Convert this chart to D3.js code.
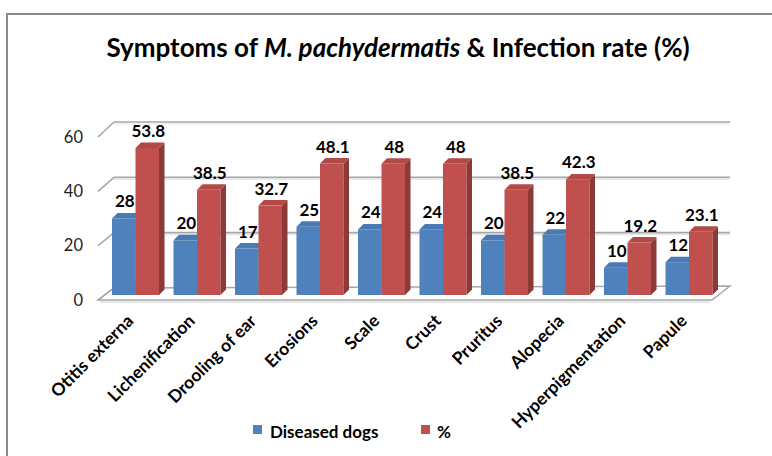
<!DOCTYPE html>
<html><head><meta charset="utf-8">
<script src="https://cdn.jsdelivr.net/npm/d3@7"></script>
<style>body{margin:0;background:#fff}svg{display:block}</style>
</head><body>
<script>
const categories = ["Otitis externa","Lichenification","Drooling of ear","Erosions","Scale","Crust","Pruritus","Alopecia","Hyperpigmentation","Papule"];
const diseasedDogs = [28,20,17,25,24,24,20,22,10,12];
const percent = [53.8,38.5,32.7,48.1,48,48,38.5,42.3,19.2,23.1];
const percentLabels = ["53.8","38.5","32.7","48.1","48","48","38.5","42.3","19.2","23.1"];
const yTicks = [0,20,40,60];
const seriesNames = ["Diseased dogs","%"];

const W = 772, H = 456;
const svg = d3.select("body").append("svg").attr("width", W).attr("height", H);
const FONT = "Lato, 'Open Sans', sans-serif";

// border
svg.append("rect").attr("x",7).attr("y",14).attr("width",820).attr("height",500)
  .attr("fill","none").attr("stroke","#8c8c8c").attr("stroke-width",2);

// title
const title = svg.append("text").attr("x",398).attr("y",57).attr("text-anchor","middle")
  .attr("font-family",FONT).attr("font-weight","bold").attr("font-size",26).attr("fill","#000");
title.append("tspan").text("Symptoms of ");
title.append("tspan").attr("font-style","italic").text("M. pachydermatis");
title.append("tspan").text(" & Infection rate (%)");

// scales
const depthX = 16;
const yBack = d3.scaleLinear().domain([0,60]).range([288,122]);
const yFront = d3.scaleLinear().domain([0,60]).range([300,137]);
const yBar = d3.scaleLinear().domain([0,60]).range([295,131]);
const x0 = d3.scaleBand().domain(categories).range([105,720]).padding(0);
const x1 = d3.scaleBand().domain(seriesNames).range([7,54]).padding(0);
const floorLeft = 98, floorRight = 712;

// floor
const floorPts = [[floorLeft,yFront(0)],[floorRight,yFront(0)],[floorRight+depthX+2,yBack(0)-2],[floorLeft+depthX,yBack(0)]];
svg.append("polygon").attr("points", floorPts.map(p=>p.join(",")).join(" "))
  .attr("fill","#fff").attr("stroke","#a6a6a6").attr("stroke-width",1.5);
svg.append("line").attr("x1",floorLeft+2).attr("x2",floorRight-2).attr("y1",yFront(0)+2).attr("y2",yFront(0)+2)
  .attr("stroke","#e0e0e0").attr("stroke-width",1.5);

// back wall gridlines and left-wall diagonals
yTicks.forEach(t => {
  if (t > 0) {
    svg.append("line").attr("x1",floorLeft+depthX).attr("x2",730).attr("y1",yBack(t)).attr("y2",yBack(t))
      .attr("stroke","#a6a6a6").attr("stroke-width",1.6);
    svg.append("line").attr("x1",floorLeft+depthX).attr("x2",730).attr("y1",yBack(t)+2).attr("y2",yBack(t)+2)
      .attr("stroke","#e6e6e6").attr("stroke-width",1.2);
  }
  svg.append("line").attr("x1",floorLeft).attr("y1",yFront(t)).attr("x2",floorLeft+depthX).attr("y2",yBack(t))
    .attr("stroke","#a6a6a6").attr("stroke-width",1.5);
  svg.append("text").attr("x",83).attr("y",yFront(t)).attr("dy","0.35em").attr("text-anchor","end")
    .attr("font-family",FONT).attr("font-size",16.5).attr("fill","#222").text(t);
});

// bars
const d = 5.5;
const colors = {
  "Diseased dogs": {front:"#4f81bd", side:"#385d8a", top:"#4a7ab4"},
  "%": {front:"#c0504d", side:"#8c3a38", top:"#b14a47"}
};
function drawBar(g, x, w, v, c) {
  const yt = yBar(v), yb = yBar(0);
  g.append("rect").attr("x",x).attr("y",yt).attr("width",w).attr("height",yb-yt).attr("fill",c.front);
  g.append("polygon").attr("points",[[x+w,yt],[x+w+d,yt-d],[x+w+d,yb-d],[x+w,yb]].map(p=>p.join(",")).join(" "))
    .attr("fill",c.side);
  g.append("polygon").attr("points",[[x,yt],[x+d,yt-d],[x+w+d,yt-d],[x+w,yt]].map(p=>p.join(",")).join(" "))
    .attr("fill",c.top);
}
const barsG = svg.append("g");
categories.forEach((cat,i) => {
  const vals = [diseasedDogs[i], percent[i]];
  seriesNames.forEach((s,j) => {
    drawBar(barsG, x0(cat)+x1(s), x1.bandwidth(), vals[j], colors[s]);
  });
});
// data labels
categories.forEach((cat,i) => {
  const vals = [diseasedDogs[i], percent[i]];
  const labs = [String(diseasedDogs[i]), percentLabels[i]];
  seriesNames.forEach((s,j) => {
    svg.append("text").attr("x",x0(cat)+x1(s)+x1.bandwidth()/2+1).attr("y",yBar(vals[j])-11)
      .attr("text-anchor","middle").attr("font-family",FONT).attr("font-weight","bold")
      .attr("font-size",17).attr("fill","#000").text(labs[j]);
  });
});

// category labels
categories.forEach(cat => {
  const cx = x0(cat) + x1("%") - 1;
  svg.append("text").attr("transform",`translate(${cx},322) rotate(-45)`)
    .attr("text-anchor","end").attr("font-family",FONT).attr("font-weight","bold")
    .attr("font-size",17.5).attr("fill","#000").text(cat);
});

// legend
const legend = [{name:"Diseased dogs", x:253, tx:270}, {name:"%", x:421, tx:437}];
legend.forEach(l => {
  svg.append("rect").attr("x",l.x).attr("y",425).attr("width",9).attr("height",9).attr("fill",colors[l.name].front);
  svg.append("text").attr("x",l.tx).attr("y",438).attr("font-family",FONT).attr("font-weight","bold")
    .attr("font-size",17).attr("fill","#000").text(l.name);
});
</script>
</body></html>
